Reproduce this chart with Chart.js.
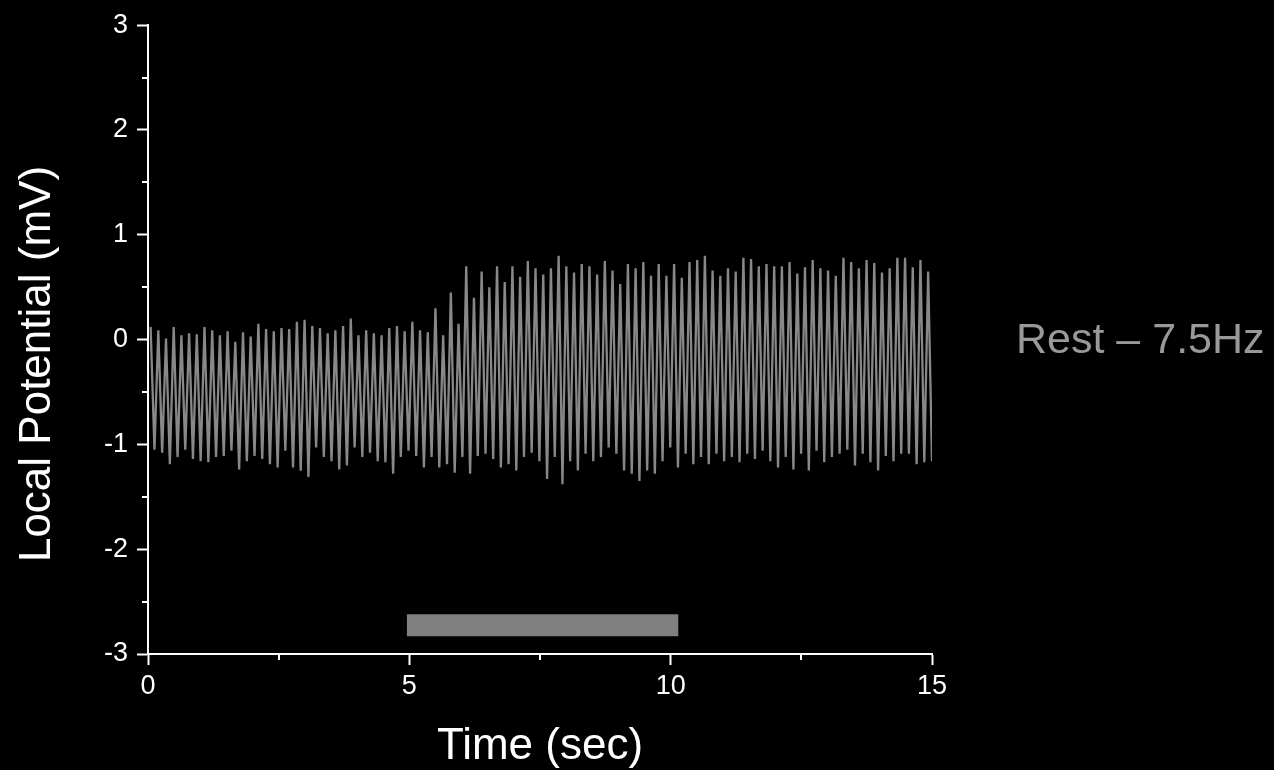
<!DOCTYPE html>
<html>
<head>
<meta charset="utf-8">
<title>Local Potential</title>
<script src="https://cdn.jsdelivr.net/npm/chart.js@4.4.1/dist/chart.umd.min.js"></script>
<style>
  html, body { margin: 0; padding: 0; background: #000; }
  #wrap { position: relative; width: 1274px; height: 770px; }
  #condition {
    position: absolute; left: 1016px; top: 314px;
    font: 43px "Liberation Sans", Arial, sans-serif;
    color: #999; white-space: nowrap;
  }
</style>
</head>
<body>
<div id="wrap">
  <canvas id="chart" width="1274" height="770"></canvas>
  <div id="condition">Rest – 7.5Hz</div>
</div>
<script>
// recording window (sec)
const traceStart = 0.05;
const traceEnd = 15.0;

// local potential, per oscillation cycle (mV)
const cyclePeaks = [
  0.12, 0.09, 0.01, 0.12, 0.04, 0.06, 0.05, 0.12, 0.09, 0.04,
  0.08, -0.02, 0.07, 0.03, 0.15, 0.10, 0.08, 0.11, 0.10, 0.17,
  0.19, 0.13, 0.11, 0.06, 0.09,
  0.13, 0.20, 0.04, 0.09, 0.06, 0.04, 0.11, 0.13, 0.08, 0.17,
  0.09, 0.07, 0.30, 0.04, 0.45, 0.15, 0.70, 0.40, 0.65, 0.50,
  0.70, 0.55, 0.70, 0.60, 0.75,
  0.68, 0.62, 0.68, 0.80, 0.70, 0.64, 0.72, 0.70, 0.62, 0.75,
  0.66, 0.53, 0.72, 0.68, 0.74, 0.61, 0.72, 0.61, 0.72, 0.59,
  0.74, 0.76, 0.80, 0.66, 0.61, 0.68,
  0.65, 0.78, 0.77, 0.70, 0.72, 0.70, 0.70, 0.74, 0.63, 0.69,
  0.76, 0.68, 0.66, 0.61, 0.78, 0.74, 0.68, 0.76, 0.73, 0.64,
  0.68, 0.78, 0.78, 0.69, 0.76, 0.65
];
const cycleTroughs = [
  -1.05, -1.08, -1.19, -1.12, -1.05, -1.14, -1.16, -1.17, -1.12, -1.11,
  -1.06, -1.24, -1.16, -1.11, -1.14, -1.19, -1.22, -1.06, -1.22, -1.25,
  -1.31, -1.03, -1.12, -1.16, -1.24,
  -1.20, -1.03, -1.12, -1.08, -1.16, -1.17, -1.28, -1.12, -1.06, -1.11,
  -1.22, -1.12, -1.22, -1.19, -1.27, -1.12, -1.28, -1.11, -1.09, -1.14,
  -1.22, -1.19, -1.25, -1.12, -1.08,
  -1.16, -1.33, -1.12, -1.38, -1.16, -1.25, -1.09, -1.16, -1.12, -1.03,
  -1.09, -1.25, -1.28, -1.35, -1.25, -1.28, -1.16, -1.03, -1.22, -1.09,
  -1.19, -1.12, -1.19, -1.09, -1.16, -1.12,
  -1.17, -1.09, -1.14, -1.06, -1.16, -1.22, -1.12, -1.24, -1.09, -1.25,
  -1.06, -1.17, -1.12, -1.09, -1.05, -1.20, -1.09, -1.17, -1.25, -1.11,
  -1.16, -1.09, -1.09, -1.19, -1.17, -1.16
];

// stimulus period marker
const stimOn = 4.95;
const stimOff = 10.15;
const stimTop = -2.62;
const stimBottom = -2.83;

const xTicks = [0, 5, 10, 15];
const yTicks = [-3, -2, -1, 0, 1, 2, 3];

// peaks and troughs alternate, evenly spaced over the recording
const trace = [];
const nSamples = cyclePeaks.length * 2;
const dt = (traceEnd - traceStart) / (nSamples - 1);
cyclePeaks.forEach((p, i) => {
  trace.push({ x: traceStart + dt * (2 * i), y: p });
  trace.push({ x: traceStart + dt * (2 * i + 1), y: cycleTroughs[i] });
});

const isMajor = (scale, v) => (scale === 'x' ? xTicks : yTicks).includes(v);

// minor ticks and the rotated y title
const axisExtras = {
  id: 'axisExtras',
  afterDraw(chart) {
    const { ctx, chartArea, scales } = chart;
    ctx.save();
    ctx.strokeStyle = '#fff';
    ctx.lineWidth = 2;
    scales.x.ticks.forEach(t => {
      if (isMajor('x', t.value)) return;
      const px = Math.round(scales.x.getPixelForValue(t.value));
      ctx.beginPath();
      ctx.moveTo(px, chartArea.bottom);
      ctx.lineTo(px, chartArea.bottom + 6);
      ctx.stroke();
    });
    scales.y.ticks.forEach(t => {
      if (isMajor('y', t.value)) return;
      const py = Math.round(scales.y.getPixelForValue(t.value));
      ctx.beginPath();
      ctx.moveTo(chartArea.left, py);
      ctx.lineTo(chartArea.left - 6, py);
      ctx.stroke();
    });
    ctx.translate(38, 364);
    ctx.rotate(-Math.PI / 2);
    ctx.fillStyle = '#fff';
    ctx.font = '44px "Liberation Sans", Arial, sans-serif';
    ctx.textAlign = 'center';
    ctx.textBaseline = 'middle';
    ctx.fillText('Local Potential (mV)', 0, 0);
    ctx.restore();
  }
};

const tickFont = { family: '"Liberation Sans", Arial, sans-serif', size: 27 };

new Chart(document.getElementById('chart'), {
  type: 'line',
  data: {
    datasets: [
      {
        data: trace,
        borderColor: '#888',
        borderWidth: 2.3,
        pointRadius: 0,
        tension: 0,
        fill: false
      },
      {
        data: [{ x: stimOn, y: stimTop }, { x: stimOff, y: stimTop }],
        borderWidth: 0,
        pointRadius: 0,
        fill: false
      },
      {
        data: [{ x: stimOn, y: stimBottom }, { x: stimOff, y: stimBottom }],
        borderWidth: 0,
        pointRadius: 0,
        backgroundColor: '#808080',
        fill: '-1'
      }
    ]
  },
  options: {
    responsive: false,
    animation: false,
    layout: { padding: { top: 19, right: 342, bottom: 0, left: 0 } },
    plugins: { legend: { display: false }, tooltip: { enabled: false } },
    scales: {
      x: {
        type: 'linear',
        min: 0,
        max: 15,
        afterFit: s => { s.height = 116; },
        border: { color: '#fff', width: 2 },
        grid: {
          drawOnChartArea: false,
          tickLength: 11,
          tickWidth: 2,
          tickColor: c => isMajor('x', c.tick.value) ? '#fff' : 'rgba(0,0,0,0)'
        },
        ticks: {
          stepSize: 2.5,
          color: '#fff',
          font: tickFont,
          padding: 5,
          maxRotation: 0,
          autoSkip: false,
          callback: v => isMajor('x', v) ? String(v) : ''
        },
        title: {
          display: true,
          text: 'Time (sec)',
          color: '#fff',
          font: { family: '"Liberation Sans", Arial, sans-serif', size: 44, lineHeight: 1.05 },
          padding: 0
        }
      },
      y: {
        min: -3,
        max: 3,
        afterFit: s => { s.width = 148; },
        border: { color: '#fff', width: 2 },
        grid: {
          drawOnChartArea: false,
          tickLength: 11,
          tickWidth: 2,
          tickColor: c => isMajor('y', c.tick.value) ? '#fff' : 'rgba(0,0,0,0)'
        },
        ticks: {
          stepSize: 0.5,
          color: '#fff',
          font: tickFont,
          padding: 9,
          autoSkip: false,
          callback: v => isMajor('y', v) ? String(v) : ''
        }
      }
    }
  },
  plugins: [axisExtras]
});
</script>
</body>
</html>
